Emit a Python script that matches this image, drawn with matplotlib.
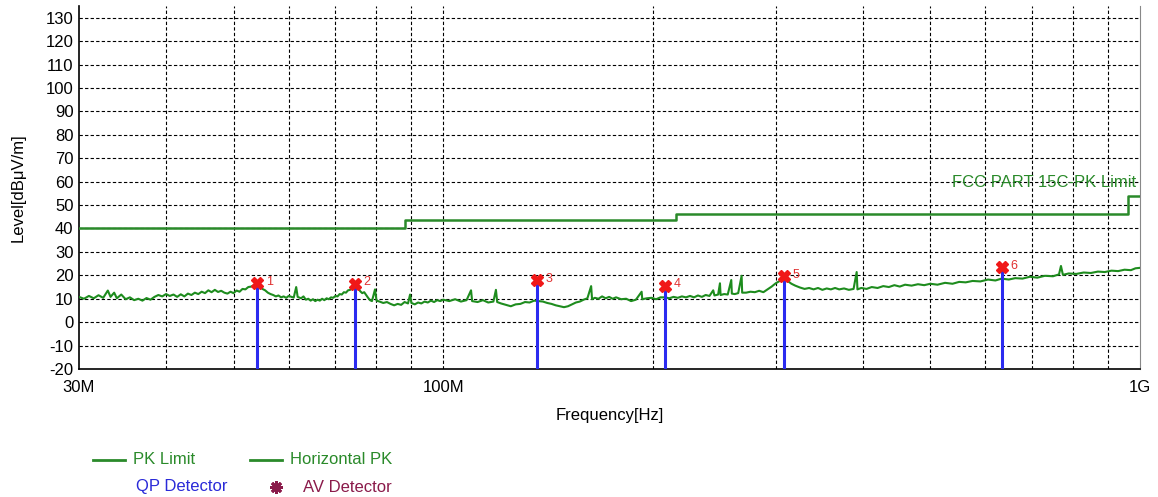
import matplotlib
matplotlib.use("Agg")
import matplotlib.pyplot as plt
from matplotlib.lines import Line2D
from matplotlib.ticker import FixedLocator, NullFormatter

plt.rcParams["font.family"] = ["Liberation Sans", "DejaVu Sans"]
plt.rcParams["axes.unicode_minus"] = False

# limit line (MHz, dBuV/m), drawn as steps
limit_freq = [30, 88, 216, 960, 1000]
limit_level = [40.0, 43.5, 46.0, 54.0, 54.0]

# horizontal PK trace
trace_freq = [
    30, 30.5, 31, 31.5, 32, 32.5, 33, 33.3, 33.7, 34, 34.5, 35, 35.5, 36, 36.5, 37, 37.5, 38, 38.5, 39,
    39.5, 40, 40.5, 41, 41.5, 42, 42.5, 43, 43.5, 44, 44.5, 45, 45.5, 46, 46.5, 47, 47.5, 48, 48.5, 49,
    49.5, 50, 50.5, 51, 51.5, 52, 52.5, 53, 53.5, 54, 54.5, 55, 55.5, 56, 56.5, 57, 57.5, 58, 58.5, 59,
    59.5, 60, 61, 61.5, 61.8, 62.5, 63, 63.5, 64, 64.5, 65, 65.5, 66, 66.5, 67, 67.5, 68, 68.5, 69, 69.5,
    70, 70.5, 71, 71.5, 72, 72.5, 73, 73.5, 74, 74.8, 75.5, 76, 76.5, 77, 77.5, 78, 78.5, 79, 79.8, 80.2,
    81, 82, 83, 84, 85, 86, 87, 88, 89, 89.6, 90, 91, 92, 93, 94, 95, 96, 97, 98, 99,
    100, 102, 104, 106, 108, 109.6, 110, 112, 114, 116, 118, 119, 119.5, 121, 123, 125, 127, 129, 131, 133,
    135, 137, 139, 141, 143, 145, 147, 149, 151, 153, 155, 157, 159, 161, 163, 163.5, 165, 167, 169, 171,
    173, 175, 177, 180, 183, 186, 189, 192.6, 193, 196, 199, 202, 205, 208, 211, 214, 217, 220, 223, 226,
    229, 232, 235, 238, 241, 244, 245, 248, 249.5, 250, 253, 256, 259, 259.5, 262, 265, 268, 268.5, 272, 276,
    280, 284, 288, 292, 296, 300, 304, 308, 312, 316, 320, 325, 330, 335, 340, 345, 350, 355, 360, 365,
    370, 376, 382, 388, 392, 393, 398, 405, 412, 420, 428, 436, 444, 452, 460, 470, 480, 490, 500, 512,
    525, 538, 550, 562, 575, 590, 605, 620, 633, 648, 662, 678, 695, 712, 730, 750, 765, 770, 775, 790,
    810, 830, 850, 870, 890, 910, 930, 950, 970, 985, 1000,
]
trace_level = [
    10.8, 10.0, 11.2, 10.2, 11.5, 10.4, 13.5, 10.8, 12.6, 10.2, 11.8, 9.8, 10.6, 9.4, 10.0, 9.2, 10.3, 9.6, 10.8, 11.6,
    11.0, 12.0, 11.2, 11.8, 10.8, 11.9, 11.0, 12.2, 11.6, 12.6, 12.0, 13.0, 12.4, 13.6, 12.8, 13.8, 12.9, 13.4, 12.6, 12.2,
    13.0, 12.4, 13.5, 13.0, 14.2, 14.0, 15.0, 15.2, 15.8, 16.2, 15.4, 14.2, 13.6, 12.6, 12.0, 11.6, 11.0, 11.4, 10.6, 11.0,
    10.4, 11.2, 10.5, 15.0, 10.8, 10.2, 11.0, 9.6, 10.0, 9.2, 9.8, 9.0, 9.6, 9.2, 10.0, 9.4, 10.2, 9.8, 10.6, 10.4,
    11.2, 11.0, 12.0, 11.8, 12.8, 12.6, 13.6, 13.8, 14.6, 15.6, 14.4, 13.2, 12.4, 12.8, 11.6, 10.4, 9.4, 9.0, 14.0, 9.2,
    8.8, 8.2, 8.6, 7.8, 7.2, 7.8, 7.4, 8.6, 8.0, 11.8, 8.2, 7.6, 8.4, 8.0, 8.8, 8.4, 9.2, 8.6, 9.4, 9.0,
    9.6, 9.0, 9.8, 8.8, 9.4, 13.6, 9.0, 8.6, 9.4, 8.4, 8.8, 13.8, 8.6, 8.0, 7.4, 6.8, 7.6, 7.8, 8.6, 8.4,
    9.2, 9.0, 8.8, 8.2, 7.8, 7.2, 6.8, 6.4, 6.8, 7.6, 8.4, 8.8, 9.6, 10.2, 15.4, 9.8, 10.4, 10.0, 11.0, 10.2,
    10.8, 10.0, 10.6, 9.8, 10.0, 9.0, 9.6, 13.0, 9.8, 10.2, 10.4, 9.8, 10.6, 10.6, 10.2, 10.8, 10.4, 11.0, 10.6, 11.2,
    10.6, 11.4, 10.8, 11.6, 11.2, 13.6, 11.4, 11.8, 16.6, 11.6, 12.0, 11.8, 18.0, 12.2, 12.0, 12.4, 19.8, 12.6, 12.6, 13.0,
    12.8, 13.4, 12.8, 14.0, 15.2, 16.6, 17.6, 18.6, 17.6, 16.4, 15.6, 14.8, 14.2, 14.6, 14.0, 14.6, 13.8, 14.4, 14.0, 14.6,
    14.0, 14.4, 13.8, 14.2, 21.4, 14.0, 14.6, 14.2, 15.0, 14.6, 15.4, 15.0, 15.8, 15.2, 16.0, 15.6, 16.2, 15.8, 16.4, 16.0,
    16.8, 16.4, 17.2, 17.0, 17.6, 17.4, 18.2, 17.8, 18.6, 18.2, 18.8, 18.6, 19.4, 19.0, 19.8, 19.6, 20.4, 24.0, 20.2, 20.8,
    20.6, 21.2, 21.0, 21.6, 21.4, 22.0, 21.8, 22.4, 22.2, 23.0, 23.2,
]

# suspected points (markers 1..6)
peak_freq = [54.1, 74.8, 136.5, 208.0, 308.0, 633.0]
peak_level = [16.7, 16.4, 17.8, 15.5, 19.6, 23.5]
peak_labels = ["1", "2", "3", "4", "5", "6"]

green = "#2a8a2a"
trace_green = "#1e8c1e"
grid_style = dict(color="black", linestyle=(0, (3, 2)), lw=0.8, zorder=1)

fig = plt.figure(figsize=(11.58, 4.97), dpi=100)
ax = fig.add_axes([0.0682, 0.2575, 0.9163, 0.7305])

ax.set_xscale("log")
ax.set_xlim(30, 1000)
ax.set_ylim(-20, 135)

# grid: horizontal every 10 dB, vertical at each decade step
for yv in range(-10, 131, 10):
    ax.axhline(yv, **grid_style)
for xv in [40, 50, 60, 70, 80, 90, 100, 200, 300, 400, 500, 600, 700, 800, 900]:
    ax.axvline(xv, **grid_style)

ax.step(limit_freq, limit_level, where="post", color=green, lw=1.8, zorder=3)
ax.plot(trace_freq, trace_level, color=trace_green, lw=1.5, zorder=3)

for f, lv, lab in zip(peak_freq, peak_level, peak_labels):
    ax.plot([f, f], [-20, lv], color="#2b2bf0", lw=2.2, zorder=4)
    ax.plot(f, lv, marker="X", color="#f01818", markersize=9, zorder=5)
    ax.annotate(lab, (f, lv), xytext=(6, 1), textcoords="offset points",
                color="#e03030", fontsize=9, va="center")

ax.text(987, 59.5, "FCC PART 15C-PK Limit", color=green, fontsize=12,
        ha="right", va="center", zorder=2)

ax.set_yticks(range(-20, 131, 10))
ax.xaxis.set_major_locator(FixedLocator([30, 100, 1000]))
ax.set_xticklabels(["30M", "100M", "1G"])
ax.xaxis.set_minor_formatter(NullFormatter())
ax.tick_params(axis="x", which="minor", length=0)
ax.tick_params(axis="both", which="major", length=0, labelsize=12)
ax.tick_params(axis="x", pad=8)
ax.tick_params(axis="y", pad=4)

ax.spines["top"].set_visible(False)
ax.spines["right"].set_color("#888888")
ax.spines["left"].set_linewidth(1.2)
ax.spines["bottom"].set_linewidth(1.2)

ax.set_xlabel("Frequency[Hz]", fontsize=12, labelpad=9)
ax.set_ylabel("Level[dBμV/m]", fontsize=12, labelpad=14)

# legend drawn by hand below the plot
W, H = 1158, 497
fig.add_artist(Line2D([93 / W, 125 / W], [1 - 460 / H] * 2, color=green, lw=2))
fig.text(133 / W, 1 - 460 / H, "PK Limit", color=green, fontsize=12, va="center")
fig.add_artist(Line2D([250 / W, 282 / W], [1 - 460 / H] * 2, color=green, lw=2))
fig.text(290 / W, 1 - 460 / H, "Horizontal PK", color=green, fontsize=12, va="center")
fig.text(136 / W, 1 - 487 / H, "QP Detector", color="#2a2ad8", fontsize=12, va="center")
fig.add_artist(Line2D([276 / W], [1 - 487 / H], marker=(8, 2, 0), color="#8a1a4a",
                      markersize=9, markeredgewidth=2, linestyle="none"))
fig.text(303 / W, 1 - 487 / H, "AV Detector", color="#8a1a4a", fontsize=12, va="center")

fig.savefig("out.png", dpi=100)
